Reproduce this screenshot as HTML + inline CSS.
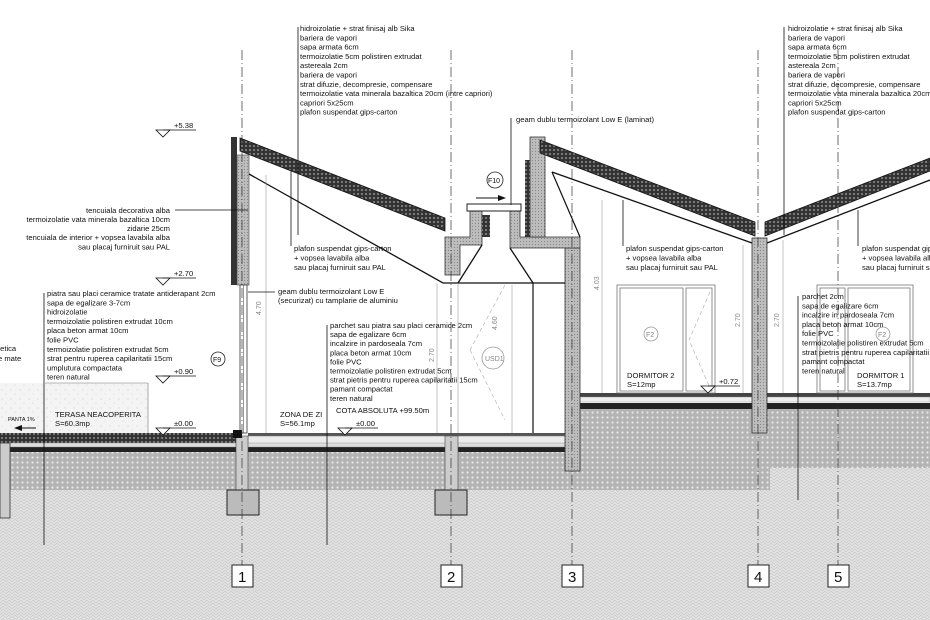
<!DOCTYPE html>
<html><head><meta charset="utf-8"><style>
html,body{margin:0;padding:0;background:#fff}
svg{display:block}
text{font-family:"Liberation Sans",sans-serif;font-size:7.6px;fill:#111}
text.num{font-size:15px}
text.g{fill:#888;font-size:7px}
</style></head><body>
<svg width="930" height="620" viewBox="0 0 930 620" xmlns="http://www.w3.org/2000/svg">
<defs>
<pattern id="ground" width="6" height="6" patternUnits="userSpaceOnUse">
<rect width="6" height="6" fill="#e2e2e2"/><path d="M0 3 L3 0 L6 3 M0 6 L3 3 L6 6" stroke="#c8c8c8" stroke-width="0.7" fill="none"/></pattern>
<pattern id="dots" width="5" height="5" patternUnits="userSpaceOnUse">
<rect width="5" height="5" fill="#b4b4b4"/><circle cx="2.5" cy="2.5" r="1.1" fill="#e8e8e8"/></pattern>
<pattern id="roof" width="4" height="4" patternUnits="userSpaceOnUse">
<rect width="4" height="4" fill="#333"/><circle cx="2" cy="2" r="0.9" fill="#aaa"/></pattern>
<pattern id="conc" width="3" height="3" patternUnits="userSpaceOnUse">
<rect width="3" height="3" fill="#bdbdbd"/><circle cx="1.5" cy="1.5" r="0.6" fill="#888"/></pattern>
<pattern id="speck" width="9" height="9" patternUnits="userSpaceOnUse">
<rect width="9" height="9" fill="#f4f4f4"/><circle cx="2" cy="3" r="0.5" fill="#bbb"/><circle cx="6" cy="7" r="0.5" fill="#ccc"/></pattern>
</defs>

<rect x="0" y="445" width="930" height="175" fill="url(#ground)"/>
<rect x="0" y="452" width="575" height="38" fill="url(#dots)"/>
<rect x="575" y="408" width="195" height="82" fill="url(#dots)"/>
<rect x="770" y="408" width="160" height="60" fill="url(#dots)"/>
<rect x="0" y="433" width="240" height="10" fill="url(#roof)"/>
<rect x="248" y="433" width="327" height="3" fill="#555"/>
<rect x="248" y="436" width="327" height="8" fill="#ececec" stroke="#777" stroke-width="0.5"/>
<rect x="10" y="447" width="565" height="5" fill="#222"/>
<rect x="0" y="443" width="575" height="4" fill="#ddd" stroke="#888" stroke-width="0.4"/>
<rect x="580" y="393" width="350" height="4" fill="#444"/>
<rect x="580" y="397" width="350" height="5" fill="#eee" stroke="#888" stroke-width="0.4"/>
<rect x="580" y="403" width="350" height="6" fill="#222"/>
<rect x="0" y="383" width="148" height="50" fill="url(#speck)"/>
<line x1="45" y1="383" x2="148" y2="383" stroke="#777" stroke-width="0.6"/>
<line x1="148" y1="383" x2="148" y2="433" stroke="#777" stroke-width="0.6"/>
<rect x="0" y="443" width="10" height="75" fill="#ccc" stroke="#333" stroke-width="0.8"/>
<rect x="236" y="436" width="12" height="54" fill="#ccc" stroke="#444" stroke-width="0.6"/>
<rect x="227" y="490" width="32" height="25" fill="#bbb" stroke="#222" stroke-width="1"/>
<rect x="445" y="436" width="13" height="54" fill="#ccc" stroke="#444" stroke-width="0.6"/>
<rect x="435" y="490" width="32" height="25" fill="#bbb" stroke="#222" stroke-width="1"/>
<rect x="565" y="248" width="15" height="223" fill="url(#conc)" stroke="#333" stroke-width="0.8"/>
<rect x="752" y="238" width="15" height="195" fill="url(#conc)" stroke="#333" stroke-width="0.8"/>

<rect x="231" y="137" width="6" height="148" fill="#333"/>
<rect x="237" y="155" width="12" height="130" fill="url(#conc)" stroke="#444" stroke-width="0.6"/>
<rect x="240" y="285" width="7" height="148" fill="#fff" stroke="#333" stroke-width="0.8"/>
<line x1="243.5" y1="285" x2="243.5" y2="433" stroke="#555" stroke-width="0.6"/>
<rect x="233" y="430" width="9" height="8" fill="#111"/>
<polygon points="240,138 445,218 445,231 240,151" fill="url(#roof)" stroke="#111" stroke-width="0.8"/>
<polyline points="249,174 443,283 565,283" fill="none" stroke="#111" stroke-width="1.3"/>
<path d="M445,237 H470 V207 H482 V245 H460 V275 H445 Z" fill="url(#conc)" stroke="#333" stroke-width="0.8"/>
<path d="M510,207 H520 V237 H580 V248 H510 Z" fill="url(#conc)" stroke="#333" stroke-width="0.8"/>
<rect x="530" y="137" width="15" height="100" fill="url(#conc)" stroke="#333" stroke-width="0.8"/>
<rect x="525" y="160" width="5" height="77" fill="url(#roof)"/>
<rect x="482" y="215" width="8" height="22" fill="url(#roof)"/>
<rect x="467" y="204" width="54" height="7" fill="#fff" stroke="#222" stroke-width="1"/>
<line x1="482" y1="245" x2="458" y2="283" stroke="#111" stroke-width="1.3"/>
<line x1="510" y1="248" x2="533" y2="283" stroke="#111" stroke-width="1.3"/>
<line x1="533" y1="283" x2="533" y2="433" stroke="#111" stroke-width="1.2"/>
<line x1="458" y1="283" x2="458" y2="433" stroke="#999" stroke-width="0.6"/>
<line x1="505" y1="285" x2="470" y2="350" stroke="#aaa" stroke-width="0.6" stroke-dasharray="4,3"/>
<line x1="470" y1="350" x2="505" y2="420" stroke="#aaa" stroke-width="0.6" stroke-dasharray="4,3"/>
<polygon points="540,140 755,222 755,236 540,153" fill="url(#roof)" stroke="#111" stroke-width="0.8"/>
<polygon points="765,222 930,158 930,171 765,236" fill="url(#roof)" stroke="#111" stroke-width="0.8"/>
<polyline points="552,172 752,243" fill="none" stroke="#111" stroke-width="1.3"/>
<line x1="552" y1="172" x2="580" y2="237" stroke="#111" stroke-width="1.2"/>
<line x1="767" y1="243" x2="930" y2="180" stroke="#111" stroke-width="1.3"/>
<g stroke="#888" stroke-width="0.5">
<line x1="266" y1="175" x2="266" y2="433"/><line x1="437" y1="283" x2="437" y2="433"/>
<line x1="602" y1="200" x2="602" y2="393"/><line x1="743" y1="245" x2="743" y2="393"/>
<line x1="783" y1="240" x2="783" y2="393"/><line x1="512" y1="285" x2="512" y2="433"/>
</g>
<g fill="none" stroke="#777" stroke-width="0.8">
<rect x="617" y="285" width="98" height="108"/><rect x="620" y="288" width="63" height="103"/>
<rect x="686" y="288" width="26" height="103"/>
<rect x="817" y="285" width="96" height="108"/><rect x="820" y="288" width="25" height="103"/><rect x="848" y="288" width="62" height="103"/>
</g>
<polyline points="710,292 689,340 710,388" fill="none" stroke="#aaa" stroke-width="0.6" stroke-dasharray="4,3"/>
<g stroke="#333" stroke-width="0.7" stroke-dasharray="10,3,1,3">
<line x1="242" y1="50" x2="242" y2="565"/><line x1="451" y1="50" x2="451" y2="565"/>
<line x1="572" y1="50" x2="572" y2="565"/><line x1="758" y1="50" x2="758" y2="565"/>
<line x1="838" y1="50" x2="838" y2="565"/>
</g>
<g fill="#fff" stroke="#222" stroke-width="1">
<rect x="232" y="565" width="21" height="22"/><rect x="441" y="565" width="21" height="22"/>
<rect x="562" y="565" width="21" height="22"/><rect x="748" y="565" width="21" height="22"/>
<rect x="828" y="565" width="21" height="22"/>
</g>
<text class="num" x="238" y="582">1</text><text class="num" x="447" y="582">2</text><text class="num" x="568" y="582">3</text><text class="num" x="754" y="582">4</text><text class="num" x="834" y="582">5</text>

<g stroke="#111" stroke-width="0.8">
<line x1="298" y1="27" x2="298" y2="235"/><line x1="784" y1="27" x2="784" y2="235"/>
<line x1="511" y1="118" x2="511" y2="205"/>
<line x1="175" y1="210" x2="248" y2="210"/>
<line x1="291" y1="170" x2="291" y2="246"/><line x1="623" y1="200" x2="623" y2="246"/><line x1="858" y1="210" x2="858" y2="246"/>
<line x1="248" y1="292" x2="275" y2="292"/>
<line x1="44" y1="293" x2="44" y2="545"/><line x1="327" y1="325" x2="327" y2="545"/>
<line x1="798" y1="296" x2="798" y2="500"/>
</g>
<g fill="#fff" stroke="#111" stroke-width="0.8">
<polygon points="156,130 170,130 163,137"/><polygon points="156,278 170,278 163,285"/>
<polygon points="156,376 170,376 163,383"/><polygon points="156,428 170,428 163,435"/>
<polygon points="338,428 352,428 345,435"/><polygon points="701,386 715,386 708,393"/>
</g>
<g stroke="#111" stroke-width="0.7">
<line x1="163" y1="130" x2="196" y2="130"/><line x1="163" y1="278" x2="196" y2="278"/>
<line x1="163" y1="376" x2="196" y2="376"/><line x1="163" y1="428" x2="196" y2="428"/>
<line x1="345" y1="428" x2="378" y2="428"/><line x1="708" y1="386" x2="740" y2="386"/>
</g>
<text x="174" y="128">+5.38</text><text x="174" y="276">+2.70</text><text x="174" y="374">+0.90</text>
<text x="174" y="426">±0.00</text><text x="356" y="426">±0.00</text><text x="719" y="384">+0.72</text>

<g fill="#fff" stroke="#222" stroke-width="0.8"><circle cx="218" cy="359" r="7"/><circle cx="495" cy="180" r="8"/></g>
<g fill="none" stroke="#999" stroke-width="0.8"><circle cx="493" cy="358" r="11"/><circle cx="651" cy="334" r="7"/><circle cx="883" cy="334" r="7"/></g>
<text x="213" y="362" style="font-size:7px">F9</text><text x="488" y="183" style="font-size:7px">F10</text>
<text x="485" y="361" class="g">USD1</text><text x="646" y="337" class="g">F2</text><text x="878" y="337" class="g">F2</text>
<line x1="476" y1="198" x2="500" y2="198" stroke="#111" stroke-width="1"/><polygon points="498,195 506,198 498,201" fill="#111"/>
<line x1="20" y1="428" x2="36" y2="428" stroke="#111" stroke-width="1"/><polygon points="14,428 22,425 22,431" fill="#111"/>

<text transform="translate(261,315) rotate(-90)" class="g">4.70</text>
<text transform="translate(599,290) rotate(-90)" class="g">4.03</text>
<text transform="translate(740,327) rotate(-90)" class="g">2.70</text>
<text transform="translate(779,327) rotate(-90)" class="g">2.70</text>
<text transform="translate(497,330) rotate(-90)" class="g">4.60</text>
<text transform="translate(434,362) rotate(-90)" class="g">2.70</text>

<g>
<text x="300" y="31">hidroizolatie + strat finisaj alb Sika</text>
<text x="300" y="40.3">bariera de vapori</text>
<text x="300" y="49.6">sapa armata 6cm</text>
<text x="300" y="58.9">termoizolatie 5cm polistiren extrudat</text>
<text x="300" y="68.2">astereala 2cm</text>
<text x="300" y="77.5">bariera de vapori</text>
<text x="300" y="86.8">strat difuzie, decompresie, compensare</text>
<text x="300" y="96.1">termoizolatie vata minerala bazaltica 20cm (intre capriori)</text>
<text x="300" y="105.4">capriori 5x25cm</text>
<text x="300" y="114.7">plafon suspendat gips-carton</text>
</g>
<g>
<text x="788" y="31">hidroizolatie + strat finisaj alb Sika</text>
<text x="788" y="40.3">bariera de vapori</text>
<text x="788" y="49.6">sapa armata 6cm</text>
<text x="788" y="58.9">termoizolatie 5cm polistiren extrudat</text>
<text x="788" y="68.2">astereala 2cm</text>
<text x="788" y="77.5">bariera de vapori</text>
<text x="788" y="86.8">strat difuzie, decompresie, compensare</text>
<text x="788" y="96.1">termoizolatie vata minerala bazaltica 20cm (intre capriori)</text>
<text x="788" y="105.4">capriori 5x25cm</text>
<text x="788" y="114.7">plafon suspendat gips-carton</text>
</g>
<text x="516" y="122">geam dublu termoizolant Low E (laminat)</text>
<g text-anchor="end">
<text x="170" y="213">tencuiala decorativa alba</text>
<text x="170" y="222">termoizolatie vata minerala bazaltica 10cm</text>
<text x="170" y="231">zidarie 25cm</text>
<text x="170" y="240">tencuiala de interior + vopsea lavabila alba</text>
<text x="170" y="249.5">sau placaj furniruit sau PAL</text>
</g>
<g><text x="294" y="251">plafon suspendat gips-carton</text><text x="294" y="260.5">+ vopsea lavabila alba</text><text x="294" y="270">sau placaj furniruit sau PAL</text></g>
<g><text x="626" y="251">plafon suspendat gips-carton</text><text x="626" y="260.5">+ vopsea lavabila alba</text><text x="626" y="270">sau placaj furniruit sau PAL</text></g>
<g><text x="862" y="251">plafon suspendat gips-carton</text><text x="862" y="260.5">+ vopsea lavabila alba</text><text x="862" y="270">sau placaj furniruit sau PAL</text></g>
<text x="278" y="294">geam dublu termoizolant Low E</text><text x="278" y="303">(securizat) cu tamplarie de aluminiu</text>
<g>
<text x="47" y="296">piatra sau placi ceramice tratate antiderapant 2cm</text>
<text x="47" y="305.3">sapa de egalizare 3-7cm</text>
<text x="47" y="314.6">hidroizolatie</text>
<text x="47" y="323.9">termoizolatie polistiren extrudat 10cm</text>
<text x="47" y="333.2">placa beton armat 10cm</text>
<text x="47" y="342.5">folie PVC</text>
<text x="47" y="351.8">termoizolatie polistiren extrudat 5cm</text>
<text x="47" y="361.1">strat pentru ruperea capilaritatii 15cm</text>
<text x="47" y="370.4">umplutura compactata</text>
<text x="47" y="379.7">teren natural</text>
</g>
<text x="-2" y="351">tetica</text><text x="-2" y="361">e mate</text>
<g>
<text x="330" y="328">parchet sau piatra sau placi ceramice 2cm</text>
<text x="330" y="337.1">sapa de egalizare 6cm</text>
<text x="330" y="346.2">incalzire in pardoseala 7cm</text>
<text x="330" y="355.3">placa beton armat 10cm</text>
<text x="330" y="364.4">folie PVC</text>
<text x="330" y="373.5">termoizolatie polistiren extrudat 5cm</text>
<text x="330" y="382.6">strat pietris pentru ruperea capilaritatii 15cm</text>
<text x="330" y="391.7">pamant compactat</text>
<text x="330" y="400.8">teren natural</text>
</g>
<g>
<text x="802" y="299">parchet 2cm</text>
<text x="802" y="308.3">sapa de egalizare 6cm</text>
<text x="802" y="317.6">incalzire in pardoseala 7cm</text>
<text x="802" y="326.9">placa beton armat 10cm</text>
<text x="802" y="336.2">folie PVC</text>
<text x="802" y="345.5">termoizolatie polistiren extrudat 5cm</text>
<text x="802" y="354.8">strat pietris pentru ruperea capilaritatii 15cm</text>
<text x="802" y="364.1">pamant compactat</text>
<text x="802" y="373.4">teren natural</text>
</g>
<text x="55" y="417">TERASA NEACOPERITA</text><text x="55" y="426">S=60.3mp</text>
<text x="8" y="421" style="font-size:5.5px">PANTA 1%</text>
<text x="280" y="417">ZONA DE ZI</text><text x="280" y="426">S=56.1mp</text>
<text x="336" y="413">COTA ABSOLUTA +99.50m</text>
<text x="627" y="378">DORMITOR 2</text><text x="627" y="387">S=12mp</text>
<text x="857" y="378">DORMITOR 1</text><text x="857" y="387">S=13.7mp</text>
</svg>
</body></html>
